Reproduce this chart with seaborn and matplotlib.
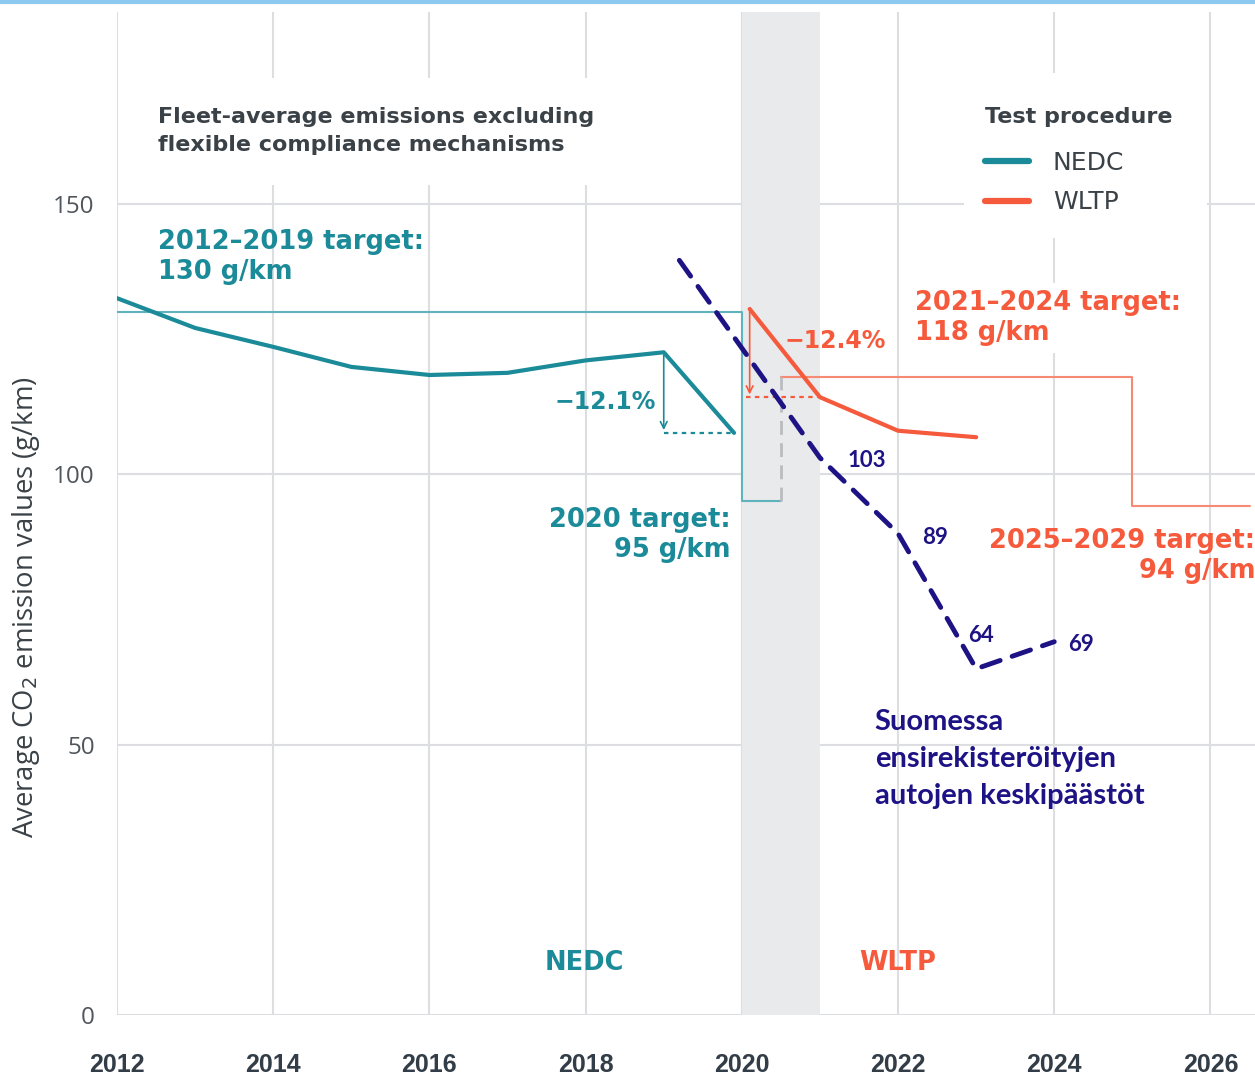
import matplotlib
matplotlib.use("Agg")
import matplotlib.pyplot as plt
import seaborn as sns
import pandas as pd
from matplotlib.lines import Line2D
from matplotlib.patches import Rectangle

# ---------------- data ----------------
nedc_years = [2012, 2013, 2014, 2015, 2016, 2017, 2018, 2019, 2019.9]
nedc_values = [132.5, 127, 123.5, 119.8, 118.3, 118.7, 121, 122.5, 107.6]
wltp_years = [2020.1, 2021, 2022, 2023]
wltp_values = [130.5, 114.2, 108, 106.8]
fi_years = [2019.2, 2021, 2022, 2023, 2024]
fi_values = [139.5, 103, 89, 64, 69]
fi_labels = ["", "103", "89", "64", "69"]
target_nedc_x = [2012, 2020, 2020, 2020.5]
target_nedc_y = [130, 130, 95, 95]
target_wltp_x = [2020.5, 2025, 2025, 2026.5]
target_wltp_y = [118, 118, 94, 94]
xticks = [2012, 2014, 2016, 2018, 2020, 2022, 2024, 2026]
yticks = [0, 50, 100, 150]

TEAL = "#1b8b99"
TEAL_L = "#5fb3bd"
RED = "#f55a3c"
NAVY = "#1e1385"
GREY = "#3b4247"

sns.set_theme(style="white")
plt.rcParams['font.family'] = ['DejaVu Sans']

fig = plt.figure(figsize=(12.55, 10.75), dpi=100)
ax = fig.add_axes([117/1255, 60/1075, 1 - 117/1255, (1015 - 12)/1075])
ax.set_xlim(2012, 2026.57)
ax.set_ylim(0, 185.4)

# grid
for x in xticks:
    ax.axvline(x, color="#dcdee1", lw=1.5, zorder=0)
for y in yticks:
    ax.axhline(y, color="#dcdee1", lw=1.5, zorder=0)
ax.axvspan(2020, 2021, color="#e9eaec", zorder=0.5, lw=0)
for s in ax.spines.values():
    s.set_visible(False)

# white boxes behind title and legend (hide grid)
ax.add_patch(Rectangle((2012.4, 153.4), 5.95, 19.8, facecolor="white", edgecolor="none", zorder=1))
ax.add_patch(Rectangle((2022.84, 143.6), 3.12, 30.5, facecolor="white", edgecolor="none", zorder=1))

# targets
ax.plot(target_nedc_x, target_nedc_y, color=TEAL_L, lw=1.5, zorder=2)
ax.plot(target_wltp_x, target_wltp_y, color="#f78a75", lw=1.5, zorder=2)
ax.plot([2020.5, 2020.5], [95, 118], color="#b9bcc0", lw=2, ls=(0, (5, 3)), zorder=2)

# series
df_n = pd.DataFrame({"year": nedc_years, "value": nedc_values})
df_w = pd.DataFrame({"year": wltp_years, "value": wltp_values})
df_f = pd.DataFrame({"year": fi_years, "value": fi_values})
sns.lineplot(data=df_n, x="year", y="value", ax=ax, color=TEAL, lw=3, sort=False, zorder=3)
sns.lineplot(data=df_w, x="year", y="value", ax=ax, color=RED, lw=3, sort=False, zorder=3)

# reduction arrows
ax.annotate("", xy=(2019, nedc_values[-1]), xytext=(2019, nedc_values[-2]),
            arrowprops=dict(arrowstyle="->", color=TEAL, lw=1.2), zorder=3)
ax.plot([2019, nedc_years[-1]], [nedc_values[-1]] * 2, color=TEAL, lw=1.6, ls=(0, (2, 2)), zorder=3)
ax.annotate("", xy=(2020.1, wltp_values[1]), xytext=(2020.1, wltp_values[0]),
            arrowprops=dict(arrowstyle="->", color=RED, lw=1.2), zorder=3)
ax.plot([2020.05, 2021], [wltp_values[1]] * 2, color=RED, lw=1.6, ls=(0, (2, 2)), zorder=3)

sns.lineplot(data=df_f, x="year", y="value", ax=ax, color=NAVY, lw=3.5, sort=False, zorder=4)
ax.lines[-1].set_linestyle((0, (4, 2.6)))
ax.lines[-1].set_dash_capstyle("round")

fi_offsets = [(0, 0), (20, -2), (17, -3), (-6, 24), (10, -2)]
for x, y, lab, off in zip(fi_years, fi_values, fi_labels, fi_offsets):
    if lab:
        ax.annotate(lab, (x, y), xytext=off, textcoords="offset points", color=NAVY,
                    fontsize=16, fontweight="bold", family=["Lato", "DejaVu Sans"],
                    ha="left", va="center", zorder=5)

ax.text(2021.7, 56.6, "Suomessa\nensirekisteröityjen\nautojen keskipäästöt", color=NAVY,
        fontsize=21, fontweight="bold", family=["Lato", "DejaVu Sans"], ha="left", va="top",
        linespacing=1.52, zorder=5)

# texts
BIG = 18.5
ax.text(2012.53, 163.4, "Fleet-average emissions excluding\nflexible compliance mechanisms",
        color=GREY, fontsize=16, fontweight="bold", ha="left", va="center", linespacing=1.45,
        zorder=2)
ax.text(2012.53, 140.1, "2012–2019 target:\n130 g/km", color=TEAL, fontsize=BIG,
        fontweight="bold", ha="left", va="center", linespacing=1.2, zorder=3)
ax.text(2019.85, 88.8, "2020 target:\n95 g/km", color=TEAL, fontsize=BIG,
        fontweight="bold", ha="right", va="center", linespacing=1.2, zorder=3)
ax.text(2018.9, 113.3, "−12.1%", color=TEAL, fontsize=17, fontweight="bold",
        ha="right", va="center", zorder=3)
ax.text(2020.55, 124.6, "−12.4%", color=RED, fontsize=17, fontweight="bold",
        ha="left", va="center", zorder=3)
ax.text(2022.22, 128.9, "2021–2024 target:\n118 g/km", color=RED, fontsize=BIG,
        fontweight="bold", ha="left", va="center", linespacing=1.2,
        bbox=dict(facecolor="white", edgecolor="none", pad=5), zorder=3)
ax.text(2026.57, 84.8, "2025–2029 target:\n94 g/km", color=RED, fontsize=BIG,
        fontweight="bold", ha="right", va="center", linespacing=1.2, zorder=3)
ax.text(2017.98, 9.6, "NEDC", color=TEAL, fontsize=BIG, fontweight="bold", ha="center", va="center")
ax.text(2021.99, 9.6, "WLTP", color=RED, fontsize=BIG, fontweight="bold", ha="center", va="center")

# legend
handles = [Line2D([], [], color=TEAL, lw=4.5, solid_capstyle="round"),
           Line2D([], [], color=RED, lw=4.5, solid_capstyle="round")]
leg = ax.legend(handles, ["NEDC", "WLTP"], title="Test procedure", loc="upper left",
                bbox_to_anchor=(0.763, 0.905), frameon=False, fontsize=18,
                title_fontproperties={"size": 16, "weight": "bold"},
                handlelength=1.75, handletextpad=0.95, labelspacing=0.62, borderpad=0,
                borderaxespad=0)
leg.get_title().set_color(GREY)
leg._legend_box.align = "left"
leg._legend_box.sep = 17
for t in leg.get_texts():
    t.set_color(GREY)
leg.set_zorder(2)

# axes labels / ticks
ax.set_xticks(xticks)
ax.set_xticklabels([str(x) for x in xticks], fontsize=18, fontweight="bold",
                   family=["Liberation Sans", "DejaVu Sans"], color="#333d47")
ax.set_yticks(yticks)
ax.set_yticklabels([str(y) for y in yticks], fontsize=17.5, color="#50565c",
                   family=["Open Sans", "DejaVu Sans"])
ax.tick_params(axis="x", length=0, pad=27)
ax.tick_params(axis="y", length=0, pad=16)
ax.set_xlabel("")
ax.set_ylabel("Average CO$_2$ emission values (g/km)", fontsize=19.8, color=GREY,
              family=["Open Sans", "DejaVu Sans"], fontweight="medium")
ax.yaxis.set_label_coords(-0.066, 0.407)

fig.add_artist(Line2D([0, 1], [0.9985, 0.9985], color="#8cc8f0", lw=3, transform=fig.transFigure))

fig.savefig("out.png", dpi=100)
